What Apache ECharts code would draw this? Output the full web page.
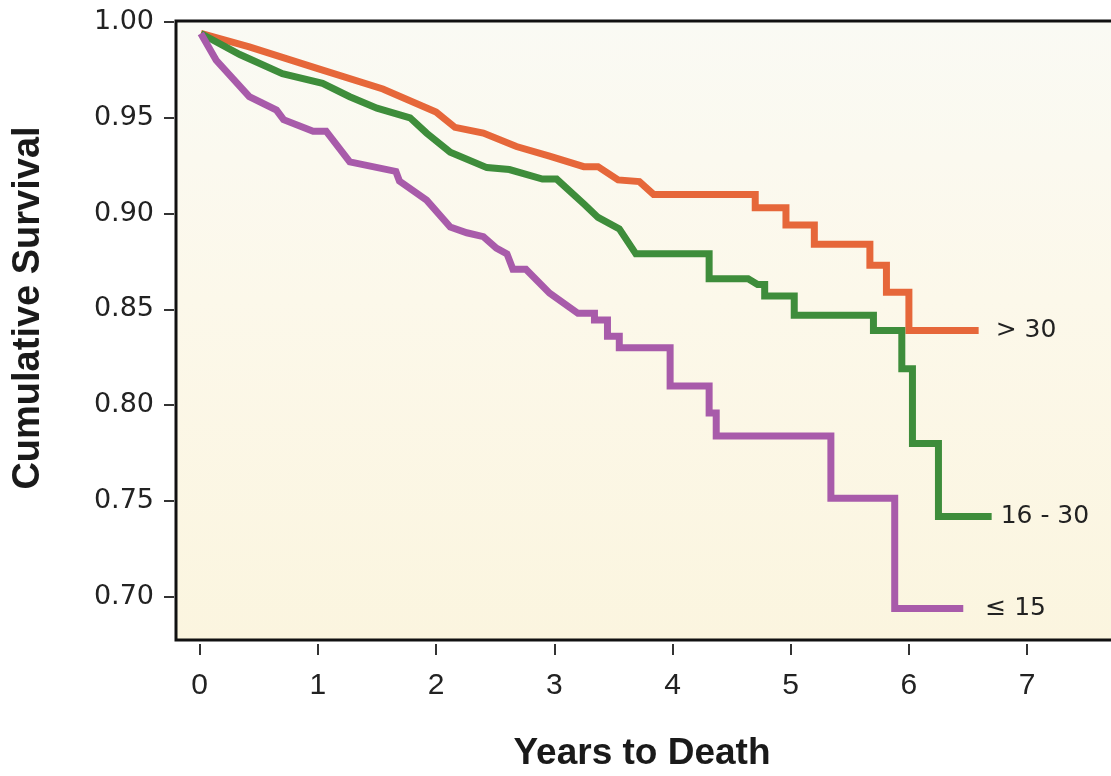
<!DOCTYPE html>
<html>
<head>
<meta charset="utf-8">
<title>Cumulative Survival by Group</title>
<script src="https://cdn.jsdelivr.net/npm/echarts@6/dist/echarts.min.js"></script>
<style>
  html, body { margin: 0; padding: 0; background: #ffffff; }
  #chart { width: 1111px; height: 776px; }
</style>
</head>
<body>
<div id="chart"></div>
<script>
// Kaplan–Meier style survival curves; paired arrays of (years, cumulative survival).
// Repeated times mark the vertical drop of a step.
const groupNames = ['> 30', '16 - 30', '≤ 15'];

const gt30Years = [0.01, 0.42, 0.98, 1.55, 2.00, 2.16, 2.40, 2.68, 2.96, 3.25, 3.37, 3.54, 3.72, 3.84,
  4.70, 4.70, 4.96, 4.96, 5.20, 5.20, 5.67, 5.67, 5.81, 5.81, 6.00, 6.00, 6.59];
const gt30Surv = [0.994, 0.987, 0.976, 0.965, 0.953, 0.945, 0.942, 0.935, 0.930, 0.9245, 0.9245, 0.9176, 0.9167, 0.910,
  0.910, 0.903, 0.903, 0.894, 0.894, 0.884, 0.884, 0.873, 0.873, 0.859, 0.859, 0.839, 0.839];

const midYears = [0.01, 0.34, 0.70, 1.04, 1.27, 1.50, 1.78, 1.92, 2.12, 2.43, 2.62, 2.90, 3.02, 3.26, 3.37, 3.55, 3.69,
  4.31, 4.31, 4.64, 4.72, 4.78, 4.78, 5.03, 5.03, 5.70, 5.70, 5.94, 5.94, 6.03, 6.03, 6.25, 6.25, 6.70];
const midSurv = [0.994, 0.983, 0.973, 0.968, 0.961, 0.955, 0.950, 0.942, 0.932, 0.924, 0.923, 0.918, 0.918, 0.9045, 0.898, 0.892, 0.879,
  0.879, 0.866, 0.866, 0.863, 0.863, 0.857, 0.857, 0.847, 0.847, 0.839, 0.839, 0.819, 0.819, 0.780, 0.780, 0.742, 0.742];

const le15Years = [0.01, 0.14, 0.42, 0.65, 0.71, 0.96, 1.07, 1.27, 1.66, 1.69, 1.92, 2.12, 2.26, 2.40, 2.51, 2.60, 2.65, 2.76, 2.96, 3.20,
  3.34, 3.34, 3.45, 3.45, 3.55, 3.55, 3.98, 3.98, 4.31, 4.31, 4.37, 4.37, 5.34, 5.34, 5.88, 5.88, 6.46];
const le15Surv = [0.994, 0.980, 0.961, 0.954, 0.949, 0.943, 0.943, 0.927, 0.922, 0.917, 0.907, 0.893, 0.890, 0.888, 0.882, 0.879, 0.871, 0.871, 0.8585, 0.848,
  0.848, 0.8445, 0.8445, 0.836, 0.836, 0.830, 0.830, 0.810, 0.810, 0.796, 0.796, 0.784, 0.784, 0.7515, 0.7515, 0.694, 0.694];

const xTickValues = [0, 1, 2, 3, 4, 5, 6, 7];
const yTickValues = [0.70, 0.75, 0.80, 0.85, 0.90, 0.95, 1.00];

const groupColors = ['#E6673A', '#3E8D3B', '#A85BAA'];
const labelGaps = [17, 9, 22];

function pairs(xs, ys) {
  return xs.map((x, i) => [x, ys[i]]);
}
const groupData = [pairs(gt30Years, gt30Surv), pairs(midYears, midSurv), pairs(le15Years, le15Surv)];

const chart = echarts.init(document.getElementById('chart'), null, { renderer: 'canvas' });

const series = groupNames.map((name, i) => ({
  name: name,
  type: 'line',
  data: groupData[i],
  showSymbol: false,
  symbol: 'none',
  smooth: false,
  silent: true,
  z: 3 + i,
  lineStyle: { color: groupColors[i], width: 7, join: 'miter', cap: 'butt' },
  endLabel: {
    show: true,
    formatter: name,
    distance: labelGaps[i],
    color: '#222222',
    fontFamily: 'DejaVu Sans',
    fontSize: 25
  }
}));

const titleStyle = { fontFamily: 'Liberation Sans', fontWeight: 'bold', fill: '#1a1a1a', align: 'center', verticalAlign: 'middle' };

chart.setOption({
  animation: false,
  backgroundColor: '#ffffff',
  grid: {
    left: 176,
    top: 21,
    bottom: 136,
    width: 957.5,
    outerBoundsMode: 'none',
    containLabel: false,
    show: true,
    borderColor: '#111111',
    borderWidth: 3,
    backgroundColor: new echarts.graphic.LinearGradient(0, 0, 0, 1, [
      { offset: 0, color: '#FAFAF4' },
      { offset: 0.45, color: '#FCF8EA' },
      { offset: 1, color: '#FBF5DF' }
    ])
  },
  // axis titles; the plot box runs past the right edge, so both sit left of its true middle
  graphic: [{
    type: 'text',
    x: 29,
    y: 308,
    rotation: Math.PI / 2,
    silent: true,
    style: Object.assign({ text: 'Cumulative Survival', fontSize: 38 }, titleStyle)
  }, {
    type: 'text',
    x: 642,
    y: 754,
    silent: true,
    style: Object.assign({ text: 'Years to Death', fontSize: 37 }, titleStyle)
  }],
  xAxis: {
    type: 'value',
    min: -0.2,
    max: 7.9,
    offset: 4,
    axisLine: { show: false, onZero: false },
    splitLine: { show: false },
    axisTick: { show: true, length: 11, lineStyle: { color: '#333333', width: 2 }, customValues: xTickValues },
    axisLabel: { margin: 27, fontFamily: 'Liberation Sans', fontSize: 30, color: '#222222', customValues: xTickValues,
      formatter: v => String(v) }
  },
  yAxis: {
    type: 'value',
    min: 0.6775,
    max: 1.0005,
    offset: 2,
    axisLine: { show: false, onZero: false },
    splitLine: { show: false },
    axisTick: { show: true, length: 10, lineStyle: { color: '#333333', width: 2 }, customValues: yTickValues },
    axisLabel: { margin: 20, fontFamily: 'DejaVu Sans', fontSize: 27, color: '#222222', customValues: yTickValues,
      formatter: v => v.toFixed(2) }
  },
  series: series
});
</script>
</body>
</html>
